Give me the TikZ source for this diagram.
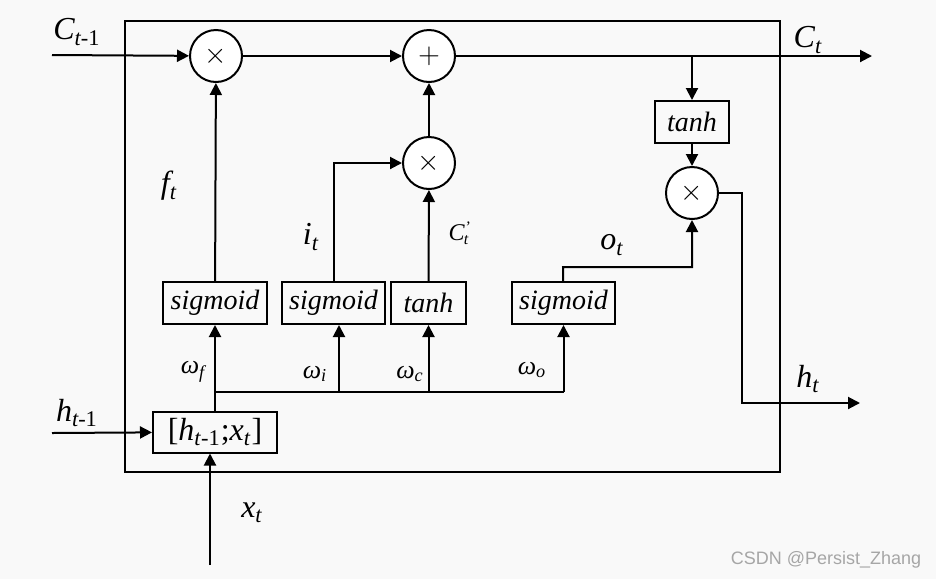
\documentclass[tikz,border=0pt]{standalone}
\usepackage{fontspec}
\setmainfont{Liberation Serif}
\newfontfamily\markfont{Liberation Sans}
\usetikzlibrary{arrows.meta}
\definecolor{bgcol}{RGB}{249,249,249}
\begin{document}
\begin{tikzpicture}[x=0.5pt,y=-0.5pt,line width=1pt,
		>={Triangle[length=6pt,width=6pt]},
		op/.style={draw,circle,minimum size=26pt,inner sep=0pt,fill=white,font=\fontsize{14}{16}\selectfont},
		fn/.style={draw,minimum height=21pt,inner sep=0pt,font=\fontsize{14}{16}\selectfont\itshape},
		lab/.style={inner sep=0pt,font=\fontsize{16}{18}\selectfont\itshape},
		wlab/.style={inner sep=0pt,font=\fontsize{13}{15}\selectfont\itshape}]
		\fill[bgcol] (0,0) rectangle (936,579);
		\useasboundingbox (0,0) rectangle (936,579);
		\draw (125,21) rectangle (780,472);
		% operations
		\node[op] (mf) at (216,56) {$\times$};
		\node[op] (add) at (429,56) {$+$};
		\node[op] (mi) at (429,163) {$\times$};
		\node[op] (mo) at (692,193) {$\times$};
		% gates
		\node[fn,minimum width=52pt] (sf) at (215,303) {sigmoid};
		\node[fn,minimum width=51.5pt] (si) at (333.5,303) {sigmoid};
		\node[fn,minimum width=37.5pt] (tn) at (428.5,303) {tanh};
		\node[fn,minimum width=51.5pt] (so) at (563.5,303) {sigmoid};
		\node[fn,minimum width=37pt] (tc) at (692,122) {tanh};
		\node[draw,minimum width=62pt,minimum height=20.5pt,inner sep=0pt,font=\fontsize{16}{18}\selectfont] (cat) at (215,432) {[\textit{h}\textsubscript{\textit{t}-1};\textit{x}\textsubscript{\textit{t}}]};
		\coordinate (cin) at (52,55);
		\coordinate (cout) at (872,56);
		\coordinate (br) at (692,56);
		\coordinate (hc) at (742,403);
		\coordinate (hout) at (860,403);
		\coordinate (ok) at (563,267);
		\coordinate (hin) at (52,433);
		\coordinate (xin) at (210,565);
		\coordinate (bl) at (215,392);
		\coordinate (bi) at (339,392);
		\coordinate (bc) at (428.5,392);
		\coordinate (bo) at (563.5,392);
		% cell state
		\draw[->] (cin) -- (mf);
		\draw[->] (mf) -- (add);
		\draw[->] (add) -- (cout);
		\draw[->] (br) -- (tc);
		\draw[->] (tc) -- (mo);
		\draw[->] (mo.east) -| (hc) -- (hout);
		% gates to operations
		\draw[->] (sf) -- (mf);
		\draw[->] (si.north) |- (mi);
		\draw[->] (tn) -- (mi);
		\draw[->] (mi) -- (add);
		\draw[->] (so) -- (ok) -| (mo);
		% inputs
		\draw[->] (hin) -- (cat);
		\draw[->] (xin) -- (xin |- cat.south);
		\draw[->] (cat) -- (sf);
		\draw (bl) -- (bo);
		\draw[->] (bi) -- (bi |- si.south);
		\draw[->] (bc) -- (tn);
		\draw[->] (bo) -- (so);
		% labels
		\node[lab] (lcin) at (77,32) {C\textsubscript{t\upshape-1}};
		\node[lab] (lcout) at (808,40) {C\textsubscript{t}};
		\node[lab] (lf) at (169,186) {f\textsubscript{t}};
		\node[lab] (li) at (311,237) {i\textsubscript{t}};
		\node[lab] (lo) at (612,245) {o\textsubscript{t}};
		\node[inner sep=0pt,font=\fontsize{12}{14}\selectfont\itshape] (lct) at (459,233) {C\textsuperscript{'}\kern-0.3em\textsubscript{t}};
		\node[lab] (lh) at (808,379) {h\textsubscript{t}};
		\node[lab] (lhin) at (77,413) {h\textsubscript{t\upshape-1}};
		\node[lab] (lx) at (252,513) {x\textsubscript{t}};
		\node[wlab] (wf) at (193,372) {ω\textsubscript{f}};
		\node[wlab] (wi) at (315,374) {ω\textsubscript{i}};
		\node[wlab] (wc) at (410,374) {ω\textsubscript{c}};
		\node[wlab] (wo) at (532,370) {ω\textsubscript{o}};
		\node[inner sep=0pt,text=gray!70,font=\markfont\fontsize{9}{11}\selectfont] (mark) at (826,560) {CSDN @Persist\_Zhang};
	\end{tikzpicture}
\end{document}
